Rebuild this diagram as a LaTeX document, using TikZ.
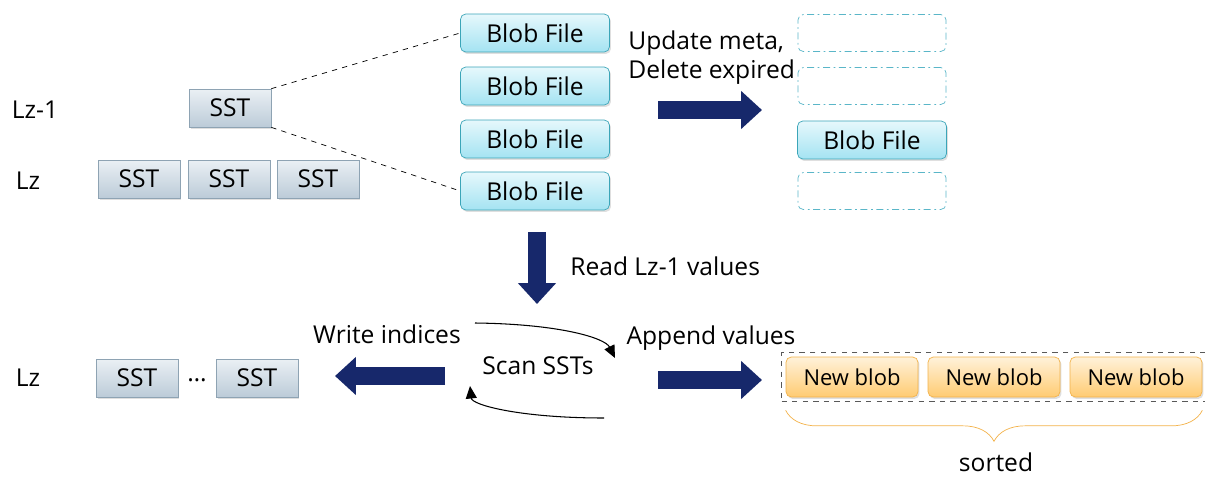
\documentclass[tikz,border=0pt]{standalone}
\usepackage{fontspec}
\setmainfont{Open Sans}
\usetikzlibrary{arrows.meta, positioning, shadows, fit, decorations.pathreplacing}

\definecolor{navy}{HTML}{17286B}
\definecolor{sstline}{HTML}{8EA3B3}
\definecolor{ssttop}{HTML}{EAF0F4}
\definecolor{sstbot}{HTML}{BCCBD8}
\definecolor{blobline}{HTML}{3BA5B8}
\definecolor{blobtop}{HTML}{E6F8FC}
\definecolor{blobbot}{HTML}{A4E3F2}
\definecolor{slotline}{HTML}{5AB6C8}
\definecolor{newline}{HTML}{F3B24A}
\definecolor{newtop}{HTML}{FFF2DA}
\definecolor{newbot}{HTML}{FFCB72}

\begin{document}
\begin{tikzpicture}[x=0.02cm, y=-0.02cm,
    sst/.style={rectangle, draw=sstline, top color=ssttop, bottom color=sstbot, minimum width=1.64cm, minimum height=0.76cm, font=\fontsize{14}{16}\selectfont, drop shadow={shadow xshift=0.03cm, shadow yshift=-0.04cm, opacity=0.25}},
    blob/.style={rectangle, rounded corners=3pt, draw=blobline, top color=blobtop, bottom color=blobbot, minimum width=2.98cm, minimum height=0.76cm, font=\fontsize{14}{16}\selectfont, drop shadow={shadow xshift=0.03cm, shadow yshift=-0.04cm, opacity=0.25}},
    slot/.style={rectangle, rounded corners=3pt, draw=slotline, dash pattern=on 4pt off 2pt on 1pt off 2pt, minimum width=2.96cm, minimum height=0.74cm},
    newblob/.style={rectangle, rounded corners=3pt, draw=newline, top color=newtop, bottom color=newbot, minimum width=2.64cm, minimum height=0.8cm, font=\fontsize{12.5}{14}\selectfont, drop shadow={shadow xshift=0.03cm, shadow yshift=-0.04cm, opacity=0.25}},
    label/.style={font=\fontsize{14}{16.5}\selectfont, inner sep=0pt},
    bigarrow/.style={navy, line width=0.36cm, -{Triangle[length=0.42cm, width=0.74cm]}},
    loop/.style={-{Triangle[length=2.5mm, width=2.2mm]}, semithick}
]
\useasboundingbox (0,0) rectangle (1205,477);

% Levels
\node[label] (lzone) at (35,110) {Lz-1};
\node[label] (lztop) at (28,181) {Lz};
\node[label] (lzbot) at (28,378) {Lz};

% SSTs before GC
\node[sst] (upsst) at (230,108) {SST};
\node[sst] (sstA) at (139,179) {SST};
\node[sst] (sstB) at (229,179) {SST};
\node[sst] (sstC) at (318,179) {SST};

% Blob files
\node[blob] (blobA) at (535,33) {Blob File};
\node[blob] (blobB) at (535,86) {Blob File};
\node[blob] (blobC) at (535,139) {Blob File};
\node[blob] (blobD) at (535,191) {Blob File};

\draw[dashed] (upsst.north east) -- (blobA.west);
\draw[dashed] (upsst.south east) -- (blobD.west);

% Update meta
\node[label, align=left, anchor=west] (update) at (628,58) {Update meta,\\Delete expired};
\coordinate (metaS) at (658,110);
\coordinate (metaE) at (762,110);
\draw[bigarrow] (metaS) -- (metaE);

\node[slot] (slotA) at (872,33) {};
\node[slot] (slotB) at (872,86) {};
\node[blob] (keep) at (872,140) {Blob File};
\node[slot] (slotD) at (872,191) {};

% Read values
\coordinate (readS) at (537,232);
\coordinate (readE) at (537,304);
\draw[bigarrow] (readS) -- (readE);
\node[label, anchor=west] (read) at (570,266) {Read Lz-1 values};

% New level
\node[sst] (sstD) at (137,378) {SST};
\node[label] (dots) at (197,380) {\dots};
\node[sst] (sstE) at (257,378) {SST};

\coordinate (writeS) at (445,376);
\coordinate (writeE) at (335,376);
\draw[bigarrow] (writeS) -- (writeE);
\node[label] (write) at (387,334) {Write indices};

% Scan loop
\node[label] (scan) at (538,366) {Scan SSTs};
\coordinate (loopA) at (475,323);
\coordinate (loopB) at (604,418);
\draw[loop] (loopA) .. controls (560,324) and (605,338) .. (615,358);
\draw[loop] (loopB) .. controls (520,418) and (472,405) .. (470,386);

% Append values
\node[label] (append) at (711,338) {Append values};
\coordinate (appS) at (658,380);
\coordinate (appE) at (762,380);
\draw[bigarrow] (appS) -- (appE);

\node[newblob] (nbA) at (852,377) {New blob};
\node[newblob] (nbB) at (994,377) {New blob};
\node[newblob] (nbC) at (1136,377) {New blob};
\node[draw=black!65, dashed, thick, fit=(nbA)(nbC), inner sep=0.08cm] (pool) {};

\draw[newline, decorate, decoration={brace, mirror, amplitude=0.62cm}] ([yshift=-0.26cm]nbA.south west) -- ([yshift=-0.26cm]nbC.south east);
\node[label] (sorted) at (996,462) {sorted};
\end{tikzpicture}
\end{document}
